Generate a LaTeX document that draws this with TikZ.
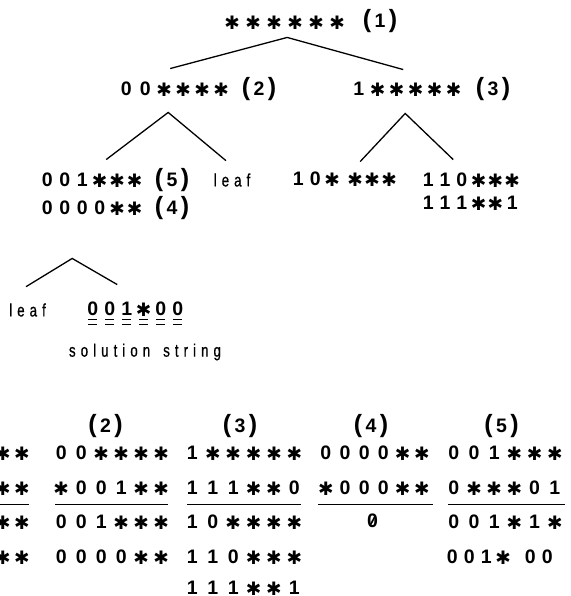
\documentclass[tikz,border=0pt]{standalone}
\usepackage{fontspec}
\setmainfont{Liberation Sans}
\newfontfamily\starfont{DejaVu Sans}
\newfontfamily\wordfont[FakeStretch=0.74,LetterSpace=28,FakeBold=0.6]{Liberation Sans}

% fixed-pitch character cells; '*' gives a star, '.' a small gap
\newlength\pitch
\newlength\gapw
\setlength\gapw{6pt}
\newcommand\st{\raisebox{-0.3pt}{\starfont\fontsize{18.5}{18.5}\selectfont ✱}}
\makeatletter
\newcommand\cells[2]{\setlength\pitch{#1}\cells@#2\relax}
\def\cells@#1{\ifx#1\relax\else\cells@one#1\expandafter\cells@\fi}
\def\cells@one#1{\ifx#1*\makebox[\pitch]{\st}\else\ifx#1.\hspace{\gapw}\else\makebox[\pitch]{#1}\fi\fi}
\makeatother
% numbered label with tall parentheses
\newcommand\lab[1]{{\fontsize{25}{25}\selectfont(}\hspace{3.5pt}#1\hspace{3.5pt}{\fontsize{25}{25}\selectfont)}}

\tikzset{
  str/.style={inner sep=0pt, font=\fontsize{19.5}{19.5}\selectfont\bfseries, anchor=west, text height=13.5pt, text depth=0pt},
  labl/.style={inner sep=0pt, font=\fontsize{19.5}{19.5}\selectfont\bfseries, anchor=center, text height=13.5pt, text depth=0pt},
  word/.style={inner sep=0pt, font=\fontsize{18}{18}\selectfont\wordfont, anchor=center},
  branch/.style={line width=1.3pt},
  rule/.style={line width=1.4pt},
  dbl/.style={line width=1.1pt}
}

\begin{document}
\begin{tikzpicture}[x=1pt,y=-1pt]
\useasboundingbox (0,0) rectangle (570,596);

% ---- search tree ----
\node[str] (s1) at (221.5,22) {\cells{21pt}{******}};
\node[labl] (l1) at (380,21) {\lab{1}};

\node[str] (s2) at (116.5,89) {\cells{19pt}{00****}};
\node[labl] (l2) at (259,89) {\lab{2}};
\node[str] (s3) at (349,89) {\cells{19pt}{1*****}};
\node[labl] (l3) at (493,89) {\lab{3}};

\node[str] (s5) at (38.25,180) {\cells{17.5pt}{001***}};
\node[labl] (l5) at (172,180) {\lab{5}};
\node[word] (leafA) at (232,180) {leaf};
\node[str] (s4) at (38.25,208) {\cells{17.5pt}{0000**}};
\node[labl] (l4) at (172,208) {\lab{4}};

\node[str] (s6) at (289.5,179) {\cells{17pt}{10*.***}};
\node[str] (s7) at (419.6,180) {\cells{16.8pt}{110***}};
\node[str] (s8) at (419.6,203) {\cells{16.8pt}{111**1}};

\node[word] (leafB) at (27.5,310) {leaf};
\node[str] (sol) at (84,309) {\cells{17pt}{001*00}};
\node[word] (cap) at (145,352) {solution\hspace{13pt}string};

% branches
\coordinate (t1) at ([xshift=2.5pt,yshift=-8.5pt]s1.south);
\draw[branch] ([xshift=-3.5pt,yshift=13.5pt]s2.north) -- (t1) -- ([xshift=-3pt,yshift=12.5pt]s3.north);
\coordinate (t2) at ([xshift=-5.5pt,yshift=-16.5pt]s2.south);
\draw[branch] ([xshift=15.25pt,yshift=13.5pt]s5.north) -- (t2) -- ([xshift=-6pt,yshift=12.5pt]leafA.north);
\coordinate (t3) at ([xshift=-1pt,yshift=-17.5pt]s3.south);
\draw[branch] ([xshift=16.5pt,yshift=10.5pt]s6.north) -- (t3) -- ([xshift=-17pt,yshift=13.5pt]s7.north);
\coordinate (t4) at ([xshift=-18.75pt,yshift=-43.5pt]s4.south);
\draw[branch] ([xshift=-1.5pt,yshift=16.5pt]leafB.north) -- (t4) -- ([xshift=-18pt,yshift=17.5pt]sol.north);

% double marks under the solution string
\foreach \i in {0,...,5}{
  \draw[dbl] ([xshift=\i*17pt+4pt,yshift=-3.5pt]sol.south west) -- ++(9,0);
  \draw[dbl] ([xshift=\i*17pt+4pt,yshift=-8.5pt]sol.south west) -- ++(9,0);
}

% ---- intersection table ----
\node[labl] (h2) at (105.5,426) {\lab{2}};
\node[labl] (h3) at (240,426) {\lab{3}};
\node[labl] (h4) at (371,426) {\lab{4}};
\node[labl] (h5) at (501.5,426) {\lab{5}};

\node[str,anchor=east] (a1) at (31.5,453) {\cells{19pt}{**}};
\node[str,anchor=east] (a2) at (31.5,488) {\cells{19pt}{**}};
\node[str,anchor=east] (a3) at (31.5,522) {\cells{19pt}{**}};
\node[str,anchor=east] (a4) at (31.5,557) {\cells{19pt}{**}};

\node[str] (b1) at (51,453) {\cells{20pt}{00****}};
\node[str] (b2) at (51,488) {\cells{20pt}{*001**}};
\node[str] (b3) at (51,522) {\cells{20pt}{001***}};
\node[str] (b4) at (51,557) {\cells{20pt}{0000**}};

\node[str] (c1) at (182,453) {\cells{20.4pt}{1*****}};
\node[str] (c2) at (182,488) {\cells{20.4pt}{111**0}};
\node[str] (c3) at (182,522) {\cells{20.4pt}{10****}};
\node[str] (c4) at (182,557) {\cells{20.4pt}{110***}};
\node[str] (c5) at (182,588) {\cells{20.4pt}{111**1}};

\node[str] (d1) at (316,453) {\cells{19.2pt}{0000**}};
\node[str] (d2) at (316,488) {\cells{19.2pt}{*000**}};
\node[labl] (d3) at (372.5,521) {0};
\draw[line width=1.6pt] ([shift={(-2.6pt,-5pt)}]d3.center) -- ([shift={(2.6pt,5pt)}]d3.center);

\node[str] (e1) at (443.5,453) {\cells{20.2pt}{001***}};
\node[str] (e2) at (443.5,488) {\cells{20.2pt}{0***01}};
\node[str] (e3) at (443.5,522) {\cells{20.2pt}{001*1*}};
\setlength\gapw{10pt}
\node[str] (e4) at (443.5,557) {\cells{17pt}{001*.00}};

% rules under the second row
\draw[rule] ([xshift=-6pt,yshift=-9.5pt]a2.south west) -- ([xshift=-3pt,yshift=-9.5pt]a2.south east);
\draw[rule] ([xshift=4pt,yshift=-9.5pt]b2.south west) -- ([xshift=-3pt,yshift=-9.5pt]b2.south east);
\draw[rule] ([xshift=5pt,yshift=-9.5pt]c2.south west) -- ([xshift=-4pt,yshift=-9.5pt]c2.south east);
\draw[rule] ([xshift=2pt,yshift=-9.5pt]d2.south west) -- ([xshift=1pt,yshift=-9.5pt]d2.south east);
\draw[rule] ([xshift=4.5pt,yshift=-9.5pt]e2.south west) -- ([xshift=0pt,yshift=-9.5pt]e2.south east);
\end{tikzpicture}
\end{document}
